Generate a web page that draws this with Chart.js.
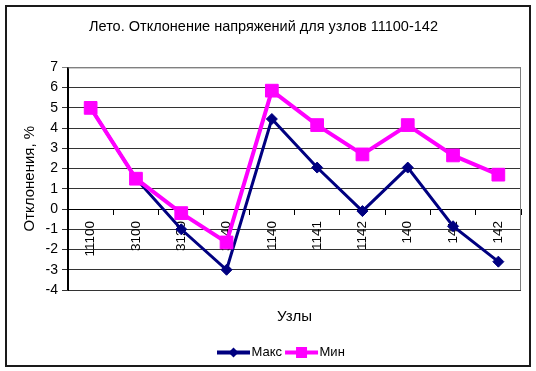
<!DOCTYPE html>
<html>
<head>
<meta charset="utf-8">
<script src="https://cdn.jsdelivr.net/npm/chart.js@4/dist/chart.umd.min.js"></script>
<style>
html,body{margin:0;padding:0;background:#fff;}
#wrap{position:relative;width:536px;height:371px;}
</style>
</head>
<body>
<div id="wrap"><canvas id="c" width="536" height="371"></canvas></div>
<script>
const categories = ['11100','3100','3120','3140','1140','1141','1142','140','141','142'];
const maxValues = [5.0, 1.5, -1.0, -3.0, 4.45, 2.05, -0.1, 2.05, -0.85, -2.6];
const minValues = [5.0, 1.5, -0.2, -1.65, 5.85, 4.15, 2.7, 4.15, 2.65, 1.7];
const yTicks = [-4,-3,-2,-1,0,1,2,3,4,5,6,7];
const titleText = 'Лето. Отклонение напряжений для узлов 11100-142';
const xTitle = 'Узлы';
const yTitle = 'Отклонения, %';

const FONT = "'Liberation Sans', Arial, sans-serif";
Chart.defaults.font.family = FONT;
Chart.defaults.color = '#000';

const LEGEND_LINE = 33;
const LEGEND_START = 217;

const frame = {
  id: 'frame',
  beforeDraw(chart) {
    const ctx = chart.ctx;
    ctx.save();
    ctx.fillStyle = '#fff';
    ctx.fillRect(0, 0, chart.width, chart.height);
    ctx.restore();
    const lg = chart.legend;
    if (lg && lg.legendHitBoxes && lg.legendHitBoxes.length && !lg._shifted) {
      const dx = LEGEND_START - lg.legendHitBoxes[0].left;
      lg.left += dx; lg.right += dx;
      lg.legendHitBoxes.forEach(hb => { hb.left += dx; });
      lg._shifted = true;
    }
  },
  afterDraw(chart) {
    const ctx = chart.ctx, a = chart.chartArea;
    ctx.save();
    ctx.strokeStyle = '#808080';
    ctx.lineWidth = 1;
    ctx.beginPath();
    ctx.moveTo(a.left, a.top + 0.5);
    ctx.lineTo(a.right - 0.5, a.top + 0.5);
    ctx.lineTo(a.right - 0.5, a.bottom);
    ctx.stroke();
    ctx.strokeStyle = '#000';
    ctx.beginPath();
    ctx.moveTo(a.left - 0.5, a.top);
    ctx.lineTo(a.left - 0.5, a.bottom);
    ctx.stroke();
    ctx.lineWidth = 2;
    ctx.strokeStyle = '#1a1a1a';
    ctx.strokeRect(6, 6, 524, 360);
    // legend line + marker samples
    const lg = chart.legend;
    if (lg && lg.legendHitBoxes && lg.legendItems) {
      lg.legendHitBoxes.forEach((hb, i) => {
        const ds = chart.data.datasets[lg.legendItems[i].datasetIndex];
        const cx = hb.left + LEGEND_LINE / 2;
        const cy = hb.top + hb.height / 2;
        ctx.strokeStyle = ds.borderColor;
        ctx.lineWidth = 4;
        ctx.beginPath();
        ctx.moveTo(hb.left, cy);
        ctx.lineTo(hb.left + LEGEND_LINE, cy);
        ctx.stroke();
        ctx.fillStyle = ds.borderColor;
        ctx.beginPath();
        if (ds.pointStyle === 'rect') {
          const s = 5.5;
          ctx.rect(cx - s, cy - s, 2 * s, 2 * s);
        } else {
          const r = 5;
          ctx.moveTo(cx - r, cy); ctx.lineTo(cx, cy - r); ctx.lineTo(cx + r, cy); ctx.lineTo(cx, cy + r); ctx.closePath();
        }
        ctx.fill();
      });
    }
    ctx.restore();
  }
};

new Chart(document.getElementById('c'), {
  type: 'line',
  data: {
    labels: categories,
    datasets: [
      {
        label: 'Макс',
        data: maxValues,
        borderColor: '#000080',
        backgroundColor: '#000080',
        borderWidth: 3,
        pointStyle: 'rectRot',
        pointRadius: 5.5,
        pointBorderWidth: 1,
        tension: 0,
        order: 2
      },
      {
        label: 'Мин',
        data: minValues,
        borderColor: '#FF00FF',
        backgroundColor: '#FF00FF',
        borderWidth: 4,
        pointStyle: 'rect',
        pointRadius: 9,
        pointBorderWidth: 1,
        tension: 0,
        order: 1
      }
    ]
  },
  options: {
    responsive: false,
    animation: false,
    devicePixelRatio: 1,
    layout: { padding: { left: 6, right: 15, top: 0, bottom: 2 } },
    plugins: {
      title: {
        display: true,
        text: titleText,
        font: { size: 14.5, weight: 'normal', family: FONT },
        color: '#000',
        padding: { top: 18.5, bottom: 31.5 }
      },
      legend: {
        position: 'bottom',
        labels: {
          boxWidth: 28,
          boxHeight: 4,
          padding: 3,
          font: { size: 13, family: FONT },
          color: '#000',
          sort: (a, b) => a.datasetIndex - b.datasetIndex,
          generateLabels(chart) {
            const items = Chart.defaults.plugins.legend.labels.generateLabels(chart);
            items.forEach(it => { it.lineWidth = 0; it.strokeStyle = 'rgba(0,0,0,0)'; it.fillStyle = 'rgba(0,0,0,0)'; });
            return items;
          }
        }
      },
      tooltip: { enabled: false }
    },
    scales: {
      x: {
        type: 'category',
        position: { y: 0 },
        offset: true,
        grid: { drawOnChartArea: false, offset: true, tickLength: 5, color: '#000' },
        border: { display: true, color: '#000' },
        ticks: { minRotation: 90, maxRotation: 90, padding: 7, autoSkip: false, font: { size: 13.5, family: FONT }, color: '#000' }
      },
      x2: {
        type: 'category',
        position: 'bottom',
        offset: true,
        grid: { display: false },
        border: { display: false },
        ticks: { display: false },
        title: { display: true, text: xTitle, font: { size: 15, family: FONT }, color: '#000', padding: { top: 0, bottom: 17 } },
        afterFit(s) { s.height = 53; }
      },
      y: {
        min: -4,
        max: 7,
        afterBuildTicks(s) { s.ticks = yTicks.map(v => ({ value: v })); },
        grid: { color: ctx => (ctx.tick && ctx.tick.value === 7) ? '#808080' : '#333', tickLength: 6, lineWidth: 1 },
        border: { display: true, color: '#000' },
        ticks: { padding: 4, font: { size: 14, family: FONT }, color: '#000' },
        title: { display: true, text: yTitle, font: { size: 15, family: FONT }, color: '#000', padding: { top: 15, bottom: 0 } },
        afterFit(s) { s.width = 62; }
      }
    }
  },
  plugins: [frame]
});
</script>
</body>
</html>
